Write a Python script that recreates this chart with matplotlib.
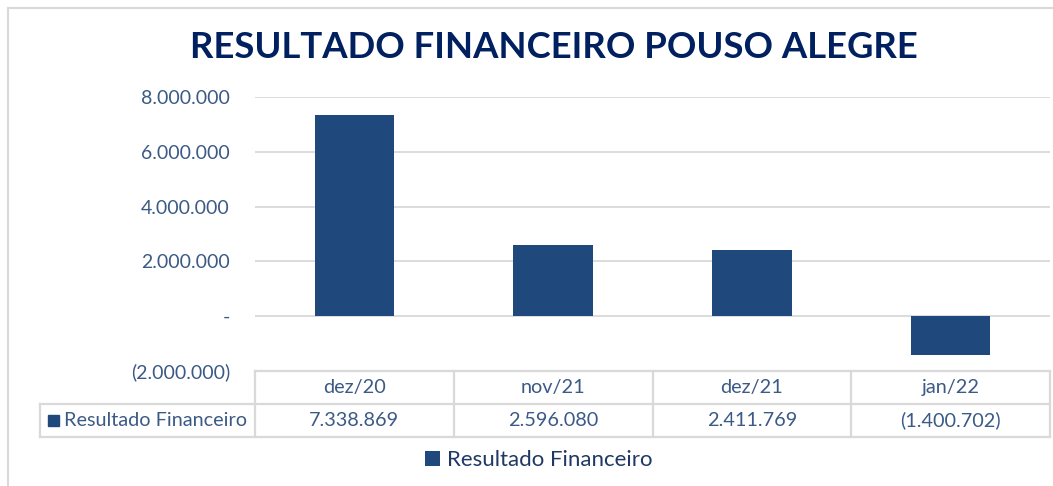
import matplotlib.pyplot as plt
from matplotlib.patches import Rectangle
from matplotlib.lines import Line2D
from matplotlib.ticker import FuncFormatter

categories = ["dez/20", "nov/21", "dez/21", "jan/22"]
resultado = [7338869, 2596080, 2411769, -1400702]
series_name = "Resultado Financeiro"
title = "RESULTADO FINANCEIRO POUSO ALEGRE"

bar_color = "#1F497D"
text_color = "#3B5A86"
grid_color = "#D9D9D9"

plt.rcParams["font.family"] = ["Lato", "DejaVu Sans"]


def fmt_br(v, pos=None):
    if v == 0:
        return "-"
    s = f"{abs(int(round(v))):,}".replace(",", ".")
    return f"({s})" if v < 0 else s


fig = plt.figure(figsize=(10.53, 4.86), dpi=100)
W, H = 1053, 486
# plot area in pixels: x 255..1050, y 97..371
AW, AH = 795, 274
ax = fig.add_axes([255 / W, 1 - 371 / H, AW / W, AH / H])

x = list(range(len(categories)))
ax.bar(x, resultado, width=0.4, color=bar_color, zorder=3, label=series_name)
ax.set_xlim(-0.5, len(categories) - 0.5)
ax.set_ylim(-2000000, 8000000)
ax.set_yticks([-2000000, 0, 2000000, 4000000, 6000000, 8000000])
ax.yaxis.set_major_formatter(FuncFormatter(fmt_br))
ax.grid(axis="y", color=grid_color, linewidth=1.3, zorder=0)
ax.set_xticks([])
for sp in ax.spines.values():
    sp.set_visible(False)
ax.tick_params(axis="y", length=0, pad=18, labelsize=14, labelcolor=text_color)

# data table under the plot (axes coords)
row_h = 33 / AH
lab_w = 215 / AW
n = len(categories)
col_w = 1 / n
tr = ax.transAxes
fs = 14.3
lk = dict(transform=tr, color=grid_color, linewidth=1.6, clip_on=False)
ax.add_line(Line2D([0, 1], [0, 0], **lk))
ax.add_line(Line2D([-lab_w, 1], [-row_h, -row_h], **lk))
ax.add_line(Line2D([-lab_w, 1], [-2 * row_h, -2 * row_h], **lk))
ax.add_line(Line2D([-lab_w, -lab_w], [-row_h, -2 * row_h], **lk))
for j in range(n + 1):
    ax.add_line(Line2D([j * col_w, j * col_w], [0, -2 * row_h], **lk))
for j, c in enumerate(categories):
    xc = (j + 0.5) * col_w
    ax.text(xc, -0.5 * row_h, c, transform=tr, ha="center", va="center",
            fontsize=fs, color=text_color)
    ax.text(xc, -1.5 * row_h, fmt_br(resultado[j]), transform=tr, ha="center",
            va="center", fontsize=fs, color=text_color)
ax.add_patch(Rectangle((-lab_w + 8 / AW, -1.5 * row_h - 5.5 / AH), 11 / AW, 11 / AH,
                       transform=tr, color=bar_color, clip_on=False))
ax.text(-lab_w + 24 / AW, -1.5 * row_h, series_name, transform=tr, ha="left",
        va="center", fontsize=fs, color=text_color)

leg = fig.legend(loc="center", bbox_to_anchor=(539 / W, 1 - 460 / H), frameon=False,
                 fontsize=16, handlelength=0.65, handleheight=0.65, handletextpad=0.35)
for t in leg.get_texts():
    t.set_color("#1F3864")

fig.text(554 / W, 1 - 47 / H, title, ha="center", va="center", fontsize=26.3,
         fontweight="bold", color="#002060")

# outer frame
fig.add_artist(Line2D([8 / W, 8 / W], [0, 1 - 8 / H], transform=fig.transFigure,
                      color="#D9D9D9", linewidth=1.5))
fig.add_artist(Line2D([8 / W, 1], [1 - 8 / H, 1 - 8 / H], transform=fig.transFigure,
                      color="#D9D9D9", linewidth=1.5))

fig.savefig("out.png", dpi=100)
